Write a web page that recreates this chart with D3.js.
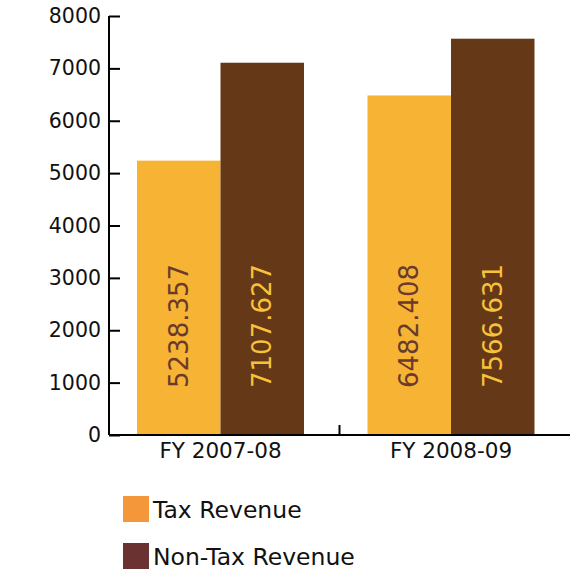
<!DOCTYPE html>
<html><head><meta charset="utf-8">
<script src="https://cdnjs.cloudflare.com/ajax/libs/d3/7.8.5/d3.min.js"></script>
<style>body{margin:0;background:#fff}svg{display:block}text{font-family:"DejaVu Sans",Verdana,sans-serif}</style>
</head><body>
<script>
const categories = ["FY 2007-08", "FY 2008-09"];
const seriesNames = ["Tax Revenue", "Non-Tax Revenue"];
const taxRevenue = [5238.357, 6482.408];
const nonTaxRevenue = [7107.627, 7566.631];
const yTicks = [0, 1000, 2000, 3000, 4000, 5000, 6000, 7000, 8000];

(function () {
const W = 570, H = 572;
const mLeft = 109, mRight = 570, mTop = 16, mBottom = 435;
const barColors = ["#F7B334", "#653818"];
const labelColors = ["#6B3A2A", "#F7C23A"];
const legendColors = ["#F4973A", "#6B3232"];

const svg = d3.select("body").append("svg").attr("width", W).attr("height", H);
const y = d3.scaleLinear().domain([0, 8000]).range([mBottom, mTop]);
const x0 = d3.scaleBand().domain(categories).range([mLeft, mRight]);
const x1 = d3.scaleBand().domain(seriesNames).range([28, 28 + 167]);

const data = categories.map((c, i) => ({cat: c, vals: [taxRevenue[i], nonTaxRevenue[i]]}));

const g = svg.append("g");
data.forEach(d => {
  d.vals.forEach((v, j) => {
    const bx = x0(d.cat) + x1(seriesNames[j]);
    g.append("rect").attr("x", bx).attr("y", y(v)).attr("width", x1.bandwidth()).attr("height", y(0) - y(v)).attr("fill", barColors[j]);
    const cx = bx + x1.bandwidth() / 2;
    g.append("text").attr("transform", `translate(${cx},${mBottom - 47}) rotate(-90)`)
      .attr("dy", "0.35em").attr("font-size", 26).attr("fill", labelColors[j]).text(v.toFixed(3));
  });
});

const yAxis = d3.axisRight(y).tickValues(yTicks).tickSize(11).tickFormat(d3.format("d"));
const ya = svg.append("g").attr("transform", `translate(${mLeft},0)`).call(yAxis);
ya.select(".domain").attr("stroke", "#000").attr("stroke-width", 2).attr("d", `M0,${mTop}V${mBottom}`);
ya.selectAll(".tick line").attr("stroke", "#000").attr("stroke-width", 2);
ya.selectAll(".tick text").attr("x", -8).attr("text-anchor", "end").attr("font-size", 20.5).attr("fill", "#111").attr("font-family", "DejaVu Sans");

const xa = svg.append("g").attr("transform", `translate(0,${mBottom})`);
xa.append("line").attr("x1", mLeft).attr("x2", mRight).attr("stroke", "#000").attr("stroke-width", 2);
categories.slice(1).forEach(c => {
  xa.append("line").attr("x1", x0(c)).attr("x2", x0(c)).attr("y1", 0).attr("y2", -10).attr("stroke", "#000").attr("stroke-width", 2);
});
categories.forEach(c => {
  xa.append("text").attr("x", x0(c) + 28 + 167 / 2).attr("y", 23).attr("text-anchor", "middle").attr("font-size", 21.5).attr("fill", "#111").text(c);
});

seriesNames.forEach((s, i) => {
  const ly = 496 + i * 47;
  svg.append("rect").attr("x", 123).attr("y", ly).attr("width", 26).attr("height", 26).attr("fill", legendColors[i]);
  svg.append("text").attr("x", 153).attr("y", ly + 22).attr("font-size", 23.5).attr("fill", "#111").text(s);
});
})();
</script>
</body></html>
